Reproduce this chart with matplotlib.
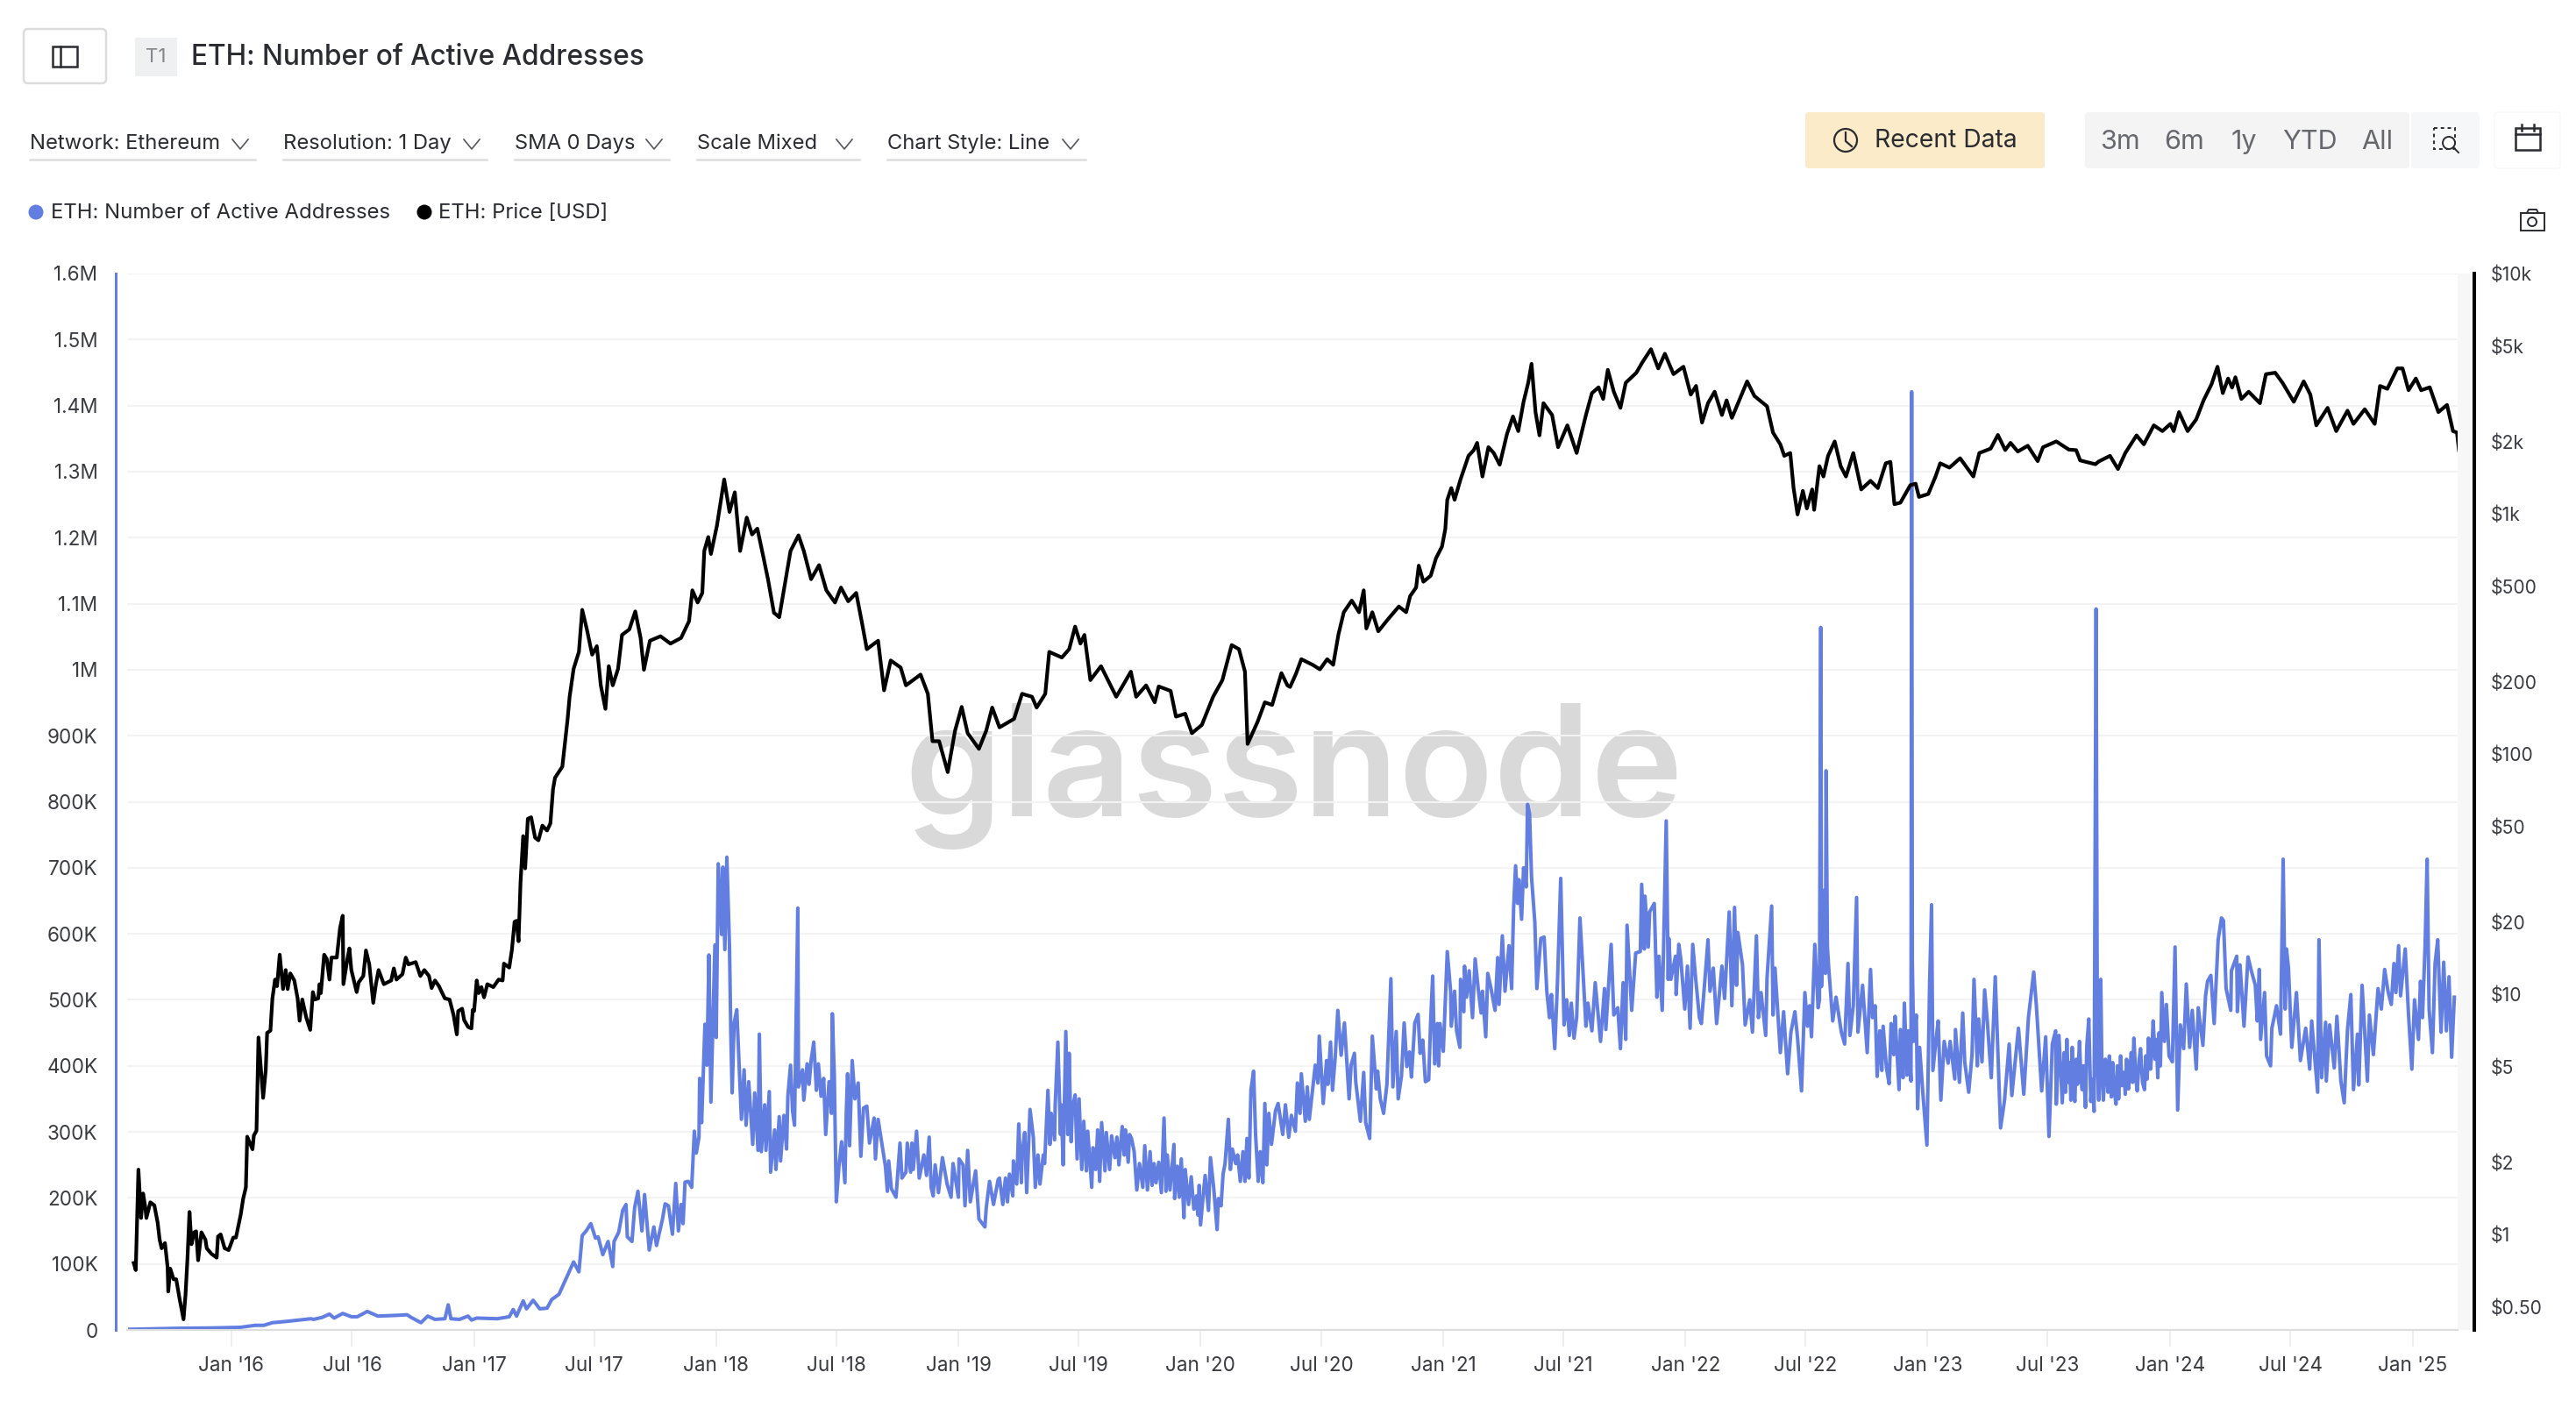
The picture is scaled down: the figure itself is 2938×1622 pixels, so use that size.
import matplotlib.pyplot as plt
from matplotlib.patches import FancyBboxPatch, Rectangle, Circle
import pandas as pd

plt.rcParams["font.family"] = ["Inter", "DejaVu Sans"]

# Active addresses in thousands, days counted from the start date of each stretch
addr_start_a = "2015-07-23"
addr_days_a = [9, 88, 132, 176, 198, 211, 224, 246, 264, 282, 286, 299, 310, 317, 330, 343, 352, 367, 383, 409, 427, 433, 448, 458, 469, 484, 489, 493, 506, 519, 524, 532, 563, 581, 587, 592, 602, 607, 617, 627, 638, 645, 656]
addr_k_a = [1, 2.6, 3, 4, 7, 7, 11, 13, 15, 17, 16, 19, 24, 18, 25, 20, 20, 28, 21, 22, 23, 19, 11, 21, 16, 17, 38, 17, 16, 21, 15, 18, 17, 20, 31, 21, 44, 32, 45, 32, 33, 46, 54]

addr_start_b = "2017-05-13"
addr_days_b = [18, 26, 31, 37, 44, 51, 55, 62, 70, 77, 79, 86, 92, 97, 99, 106, 110, 115, 121, 125, 132, 139, 143, 152, 156, 161, 167, 172, 176, 180, 183, 186, 191, 196, 200, 203, 207, 208, 211, 216, 219, 222, 225, 231, 233, 236, 241, 243, 246, 249, 253, 255, 257, 260, 264, 268, 271, 275, 278, 282, 288, 291, 296, 298, 301, 306, 308, 313, 315, 321, 323, 328, 330, 335, 339, 341, 345, 348, 351, 356, 357, 363, 365, 370, 373, 376, 380, 384, 387, 391, 395, 398, 403, 407, 408, 411, 414, 418, 422, 427, 429, 431, 434, 438, 442, 447, 451, 455, 460, 464, 471, 473, 477, 484, 488, 491, 493, 497, 504, 510, 513, 519, 521, 526, 528, 530, 535, 539, 546, 550, 554, 557, 560, 563, 568, 574, 581, 587, 590, 598, 599, 605, 608, 612, 616, 624, 629, 638, 640, 645, 651, 658]
addr_k_b = [103, 88, 143, 150, 161, 139, 141, 114, 134, 96, 134, 148, 181, 190, 141, 134, 185, 210, 150, 205, 121, 156, 128, 168, 191, 188, 145, 222, 150, 190, 161, 224, 225, 216, 301, 268, 292, 381, 314, 463, 401, 568, 345, 583, 443, 706, 599, 701, 576, 716, 581, 448, 359, 465, 485, 390, 319, 394, 310, 376, 281, 359, 272, 448, 270, 341, 272, 361, 239, 303, 243, 323, 256, 325, 274, 354, 401, 332, 310, 639, 368, 394, 348, 403, 372, 408, 436, 363, 403, 354, 381, 296, 376, 328, 479, 385, 194, 248, 285, 223, 328, 388, 279, 408, 350, 374, 263, 336, 339, 283, 321, 259, 319, 274, 248, 210, 256, 214, 201, 283, 230, 239, 283, 239, 283, 243, 301, 230, 265, 234, 292, 216, 203, 250, 208, 261, 221, 201, 252, 201, 259, 250, 188, 272, 194, 241, 168, 156, 185, 225, 190, 228]

addr_start_c = "2019-03-04"
addr_days_c = [0, 5, 9, 12, 15, 20, 21, 26, 29, 33, 34, 38, 41, 46, 51, 54, 58, 61, 66, 68, 73, 76, 78, 83, 84, 88, 92, 93, 96, 100, 103, 105, 108, 110, 114, 117, 120, 124, 127, 131, 133, 139, 141, 145, 148, 151, 154, 159, 161, 166, 169, 174, 177, 180, 185, 188, 190, 194, 196, 199, 203, 207, 211, 216, 219, 223, 227, 230, 233, 236, 240, 244, 248, 251, 253, 257, 263, 264, 268, 271, 274, 278, 280, 285, 289, 293, 297, 299, 301, 303, 307, 310, 315, 318, 323, 328, 330, 334, 337, 340, 345, 348, 351, 356, 359, 363, 367, 370, 373, 376, 379, 383, 386, 390, 393, 397, 400, 403, 406, 410, 416, 420, 427, 431, 436, 440, 446, 449, 453, 455, 461, 464, 467, 473, 476, 480, 482, 488, 493, 495, 499, 502, 506, 510, 515, 520, 527, 530, 535, 537, 544, 549, 552, 558, 562, 568, 570, 574, 579, 584, 590, 593, 598, 601, 606, 610, 614, 618, 621, 626, 631, 634, 638, 642, 647, 650, 653, 656]
addr_k_c = [230, 190, 230, 194, 236, 203, 256, 221, 312, 223, 265, 299, 208, 334, 292, 216, 265, 221, 265, 252, 363, 281, 328, 288, 341, 436, 296, 341, 250, 452, 296, 419, 285, 336, 356, 259, 350, 243, 316, 241, 301, 216, 276, 243, 303, 225, 314, 241, 299, 243, 294, 261, 292, 250, 308, 265, 303, 254, 296, 290, 270, 212, 252, 216, 279, 212, 270, 219, 252, 223, 254, 208, 321, 210, 265, 212, 281, 199, 248, 201, 259, 170, 243, 190, 232, 183, 203, 174, 219, 159, 203, 234, 181, 261, 214, 152, 199, 188, 236, 252, 319, 243, 274, 252, 265, 225, 270, 225, 290, 230, 363, 392, 296, 225, 270, 223, 343, 250, 328, 281, 332, 343, 296, 341, 292, 325, 301, 374, 328, 388, 316, 368, 319, 374, 401, 374, 445, 343, 408, 372, 436, 363, 412, 484, 416, 465, 350, 401, 419, 376, 316, 390, 314, 290, 445, 365, 392, 350, 328, 372, 532, 368, 452, 350, 385, 465, 399, 421, 383, 465, 478, 419, 439, 376, 379, 470, 536, 403]

addr_start_d = "2020-12-23"
addr_days_d = [0, 2, 4, 9, 15, 20, 21, 26, 29, 34, 35, 40, 41, 44, 48, 53, 57, 62, 66, 68, 73, 76, 81, 87, 91, 93, 98, 102, 108, 112, 115, 118, 121, 123, 127, 130, 134, 136, 139, 142, 147, 150, 156, 161, 165, 169, 172, 177, 181, 186, 191, 195, 199, 202, 206, 210, 215, 219, 224, 227, 233, 238, 246, 252, 254, 262, 266, 272, 276, 280, 284, 286, 293, 299, 306, 308, 312, 313, 318, 320, 327, 331, 334, 339, 341, 345, 348, 349, 352, 359, 360, 364, 367, 373, 377, 381, 385, 389, 395, 398, 403, 408, 411, 416, 421, 429, 433, 440, 444, 448, 451, 453, 460, 464, 471, 475, 481, 484, 488, 495, 497, 504, 506, 509, 517, 522, 528, 533, 539, 543, 549, 554, 558, 561, 564, 569, 574, 576, 578, 579, 583, 585, 586, 588, 590, 596, 601, 609, 614, 619, 622, 627, 632, 634, 641, 648, 653, 656]
addr_k_d = [464, 400, 464, 422, 573, 513, 460, 513, 453, 428, 531, 482, 551, 504, 544, 473, 562, 513, 480, 513, 444, 540, 517, 484, 564, 493, 597, 513, 582, 517, 640, 703, 646, 682, 622, 700, 671, 796, 782, 686, 617, 517, 593, 595, 513, 473, 508, 426, 524, 684, 462, 500, 446, 495, 442, 473, 624, 553, 460, 495, 453, 526, 437, 517, 455, 584, 477, 488, 426, 526, 440, 613, 484, 571, 573, 675, 577, 657, 580, 633, 646, 504, 566, 484, 577, 771, 531, 593, 531, 566, 508, 584, 562, 486, 551, 457, 584, 537, 473, 464, 526, 591, 513, 548, 464, 551, 502, 633, 491, 640, 522, 602, 553, 462, 500, 451, 597, 473, 511, 446, 533, 642, 477, 548, 420, 482, 388, 451, 482, 442, 362, 511, 460, 491, 444, 584, 488, 500, 1064, 520, 666, 540, 847, 580, 548, 468, 504, 451, 433, 555, 446, 491, 655, 451, 522, 420, 546, 473]

addr_start_e = "2022-10-14"
addr_days_e = [0, 3, 7, 10, 12, 17, 21, 24, 28, 30, 36, 38, 42, 44, 48, 50, 54, 55, 56, 58, 62, 64, 67, 72, 78, 82, 85, 87, 92, 95, 99, 104, 110, 113, 120, 121, 127, 132, 135, 141, 146, 149, 154, 156, 161, 165, 169, 175, 181, 189, 195, 202, 206, 216, 224, 231, 239, 243, 251, 257, 262, 267, 272, 273, 277, 282]
addr_k_e = [491, 384, 453, 393, 460, 397, 373, 464, 417, 475, 364, 455, 382, 495, 386, 453, 377, 1421, 557, 437, 477, 335, 428, 357, 280, 522, 644, 393, 442, 468, 348, 437, 404, 437, 380, 455, 375, 480, 406, 360, 417, 531, 400, 471, 406, 515, 468, 382, 535, 306, 348, 433, 355, 457, 357, 473, 542, 491, 362, 444, 293, 433, 453, 342, 446, 344]

addr_start_f = "2022-10-14"
addr_days_f = [285, 287, 289, 291, 293, 295, 297, 299, 301, 303, 305, 308, 310, 312, 314, 317, 319, 322, 325, 327, 330, 333, 335, 337, 340, 342, 344, 347, 349, 351, 353, 356, 358, 360, 363, 365, 367, 370, 372, 375, 377, 379, 382, 384, 386, 388, 390, 393, 395, 398, 400, 403, 406, 408, 410, 412, 415, 417, 419, 422, 424, 426, 428, 430]
addr_k_f = [420, 360, 440, 375, 405, 348, 428, 365, 346, 410, 372, 437, 385, 364, 400, 337, 430, 471, 346, 380, 331, 1092, 400, 348, 531, 380, 348, 410, 395, 360, 415, 353, 405, 365, 342, 400, 350, 415, 370, 390, 357, 410, 365, 395, 420, 375, 442, 380, 362, 410, 426, 375, 364, 415, 380, 442, 395, 420, 468, 410, 440, 382, 450, 400]

addr_start_g = "2022-10-14"
addr_days_g = [432, 436, 439, 443, 448, 452, 456, 460, 465, 469, 474, 478, 484, 487, 494, 498, 501, 506, 511, 517, 522, 525, 529, 536, 537, 545, 546, 550, 556, 562, 567, 573, 576, 579, 581, 587, 590, 596, 598, 605, 611, 615, 618, 620, 623, 628, 635, 641, 649, 655, 658, 667, 669, 673, 679, 680, 685, 692, 696, 702, 707, 712, 717, 721, 727, 729, 734, 742, 745, 751, 758, 763, 768, 773, 778, 782, 785, 789, 792, 799, 804, 809, 813, 819, 822, 825, 829, 832, 835, 840, 844, 848, 853, 857, 861, 865, 869, 873]
addr_k_g = [511, 437, 493, 415, 406, 580, 333, 462, 426, 524, 428, 484, 395, 488, 431, 506, 528, 537, 464, 591, 624, 620, 517, 484, 544, 566, 482, 553, 460, 565, 544, 522, 468, 546, 440, 511, 415, 400, 457, 491, 448, 713, 486, 577, 548, 428, 511, 408, 457, 395, 468, 360, 591, 382, 466, 377, 462, 397, 475, 377, 344, 455, 508, 364, 448, 371, 522, 377, 477, 417, 517, 486, 546, 513, 493, 555, 511, 582, 506, 577, 477, 395, 500, 440, 528, 473, 584, 713, 486, 420, 555, 591, 451, 557, 453, 535, 413, 504]

# ETH price in USD, days counted from the start date of each stretch
price_start_a = "2015-07-23"
price_days_a = [15, 18, 22, 26, 29, 32, 34, 40, 46, 51, 54, 57, 62, 66, 67, 70, 75, 79, 84, 90, 93, 96, 99, 102, 106, 109, 112, 117, 123, 125, 132, 140, 142, 146, 152, 158, 165, 169, 176, 180, 184, 186, 194, 196, 200, 203, 210, 214, 216, 221, 224, 228, 231, 235, 240, 244, 247, 251, 257, 262, 265, 269, 275, 281, 285, 288, 293, 295, 297, 302, 306, 310, 313, 321, 326, 330, 331, 337, 340, 343, 351, 354, 361, 365, 370, 376, 380, 384, 392, 403, 407, 411, 420, 425, 429, 440, 447, 453, 460, 464, 469, 475, 480, 484, 491, 497, 502, 504, 510, 513, 519, 524, 526, 528, 532, 535, 539, 543, 548, 557, 565, 571, 573, 581, 585, 589, 592, 595, 598, 602, 605, 609, 614, 620, 625, 631, 638, 643, 647]
price_usd_a = [.76, .71, 1.86, 1.17, 1.48, 1.32, 1.17, 1.36, 1.32, 1.12, .95, .875, .92, .73, .578, .72, .65, .65, .54, .443, .56, .80, 1.24, .91, 1.02, 1.03, .78, 1.02, .95, .875, .83, .80, .98, 1.0, .875, .86, .97, .97, 1.2, 1.41, 1.57, 2.55, 2.26, 2.58, 2.7, 6.6, 3.7, 4.85, 6.9, 7.05, 9.6, 11.5, 10.8, 14.6, 10.5, 12.6, 10.5, 12.2, 11.4, 9.6, 7.75, 9.5, 8.0, 7.1, 10.2, 9.5, 9.6, 11, 10.1, 14.6, 14, 11.5, 14.2, 14.2, 18.9, 21.2, 11, 14, 15.5, 12.6, 10.2, 11.2, 11.9, 15.2, 13.3, 9.2, 11, 12.6, 11, 11.4, 12.8, 11.5, 12.1, 14.2, 13.3, 13.6, 11.9, 12.6, 11.9, 10.6, 11.4, 10.8, 10.1, 9.6, 9.5, 8.2, 6.8, 8.5, 8.7, 7.8, 7.3, 7.2, 8.6, 8.5, 11.4, 10.1, 10.7, 9.7, 11, 10.7, 11.5, 11.4, 13.4, 12.9, 15.3, 20, 20.2, 16.6, 29.2, 45.5, 33.4, 53.7, 54.5, 44.8, 43.7, 50.3, 48, 51.4, 71.4]

price_start_b = "2015-07-23"
price_days_b = [650, 661, 669, 672, 678, 686, 691, 698, 706, 713, 719, 726, 731, 737, 745, 751, 762, 771, 779, 784, 793, 809, 824, 840, 852, 857, 865, 872, 875, 881, 885, 894, 900, 905, 913, 921, 929, 939, 947, 955, 964, 971, 980, 988, 997, 1005, 1017, 1025, 1036, 1048, 1059, 1072, 1081, 1092, 1104, 1113, 1120, 1137, 1146, 1156, 1171, 1179, 1201, 1212, 1219, 1229, 1242, 1253, 1263, 1272, 1289, 1300, 1309, 1320, 1342, 1354, 1369, 1376, 1389, 1395, 1414, 1425, 1434, 1442, 1448, 1457, 1473, 1496, 1518, 1526, 1541, 1554, 1560, 1578, 1586, 1600, 1610, 1625, 1642, 1656, 1670, 1681, 1690, 1694, 1709, 1720, 1731, 1745, 1754]
price_usd_b = [79.6, 88.5, 140, 173, 226, 266, 398, 330, 259, 281, 193, 154, 232, 193, 226, 313, 330, 392, 304, 224, 296, 309, 288, 304, 357, 480, 427, 468, 700, 800, 680, 890, 1132, 1390, 1018, 1228, 700, 964, 820, 867, 662, 534, 387, 371, 520, 700, 813, 700, 534, 611, 480, 427, 493, 432, 468, 348, 273, 296, 184, 245, 229, 193, 214, 178, 113, 113, 84, 125, 157, 122, 105, 125, 156, 129, 140, 178, 173, 156, 178, 266, 252, 273, 339, 288, 313, 203, 232, 173, 220, 173, 193, 164, 191, 183, 143, 147, 122, 132, 173, 203, 284, 273, 220, 110, 136, 164, 160, 217, 193]

price_start_c = "2020-05-15"
price_days_c = [0, 9, 17, 34, 45, 56, 65, 73, 81, 93, 104, 111, 115, 124, 133, 147, 164, 175, 181, 190, 194, 201, 212, 220, 229, 234, 237, 243, 248, 257, 269, 277, 282, 290, 299, 307, 316, 327, 336, 344, 352, 359, 364, 370, 376, 382, 395, 404, 418, 432, 446, 455, 465, 472, 479, 488, 498, 506, 522, 531, 544, 555, 565, 578, 593, 604, 612, 621, 630, 640, 651, 658, 666, 677, 689, 700, 719, 728, 739, 745, 754, 759, 765, 773, 779, 787, 790, 798, 804, 811, 821, 830, 838, 849, 861, 875, 886, 898, 905, 911, 920, 935, 943, 948, 962, 973, 980, 994, 1010, 1030, 1039, 1056, 1067, 1078, 1086, 1097, 1112, 1127, 1135, 1155, 1174, 1185, 1191, 1214, 1219, 1236, 1248, 1259, 1276, 1287, 1302, 1315, 1327, 1332, 1340, 1353, 1366, 1377, 1389, 1398, 1406, 1414, 1420, 1425, 1434, 1445, 1462, 1471, 1485, 1496, 1513, 1528, 1538, 1547, 1564, 1577, 1594, 1603, 1620, 1635, 1643, 1654, 1669, 1677, 1686, 1697, 1705, 1718, 1731, 1744, 1753, 1759, 1762]
price_usd_c = [190, 216, 248, 235, 225, 248, 235, 315, 389, 435, 389, 480, 333, 389, 324, 362, 411, 389, 454, 493, 608, 521, 552, 653, 730, 863, 1143, 1279, 1143, 1391, 1742, 1841, 1973, 1429, 1892, 1790, 1600, 2149, 2541, 2208, 2925, 3509, 4207, 2649, 2120, 2886, 2576, 1892, 2333, 1790, 2576, 3177, 3360, 3005, 3972, 3221, 2759, 3509, 3864, 4266, 4842, 4027, 4634, 3811, 4093, 3133, 3404, 2396, 2886, 3221, 2576, 2965, 2506, 2965, 3556, 3091, 2800, 2177, 1945, 1742, 1790, 1279, 993, 1245, 1052, 1262, 1038, 1578, 1429, 1742, 2000, 1578, 1429, 1790, 1262, 1371, 1279, 1622, 1644, 1096, 1112, 1315, 1334, 1175, 1208, 1429, 1622, 1556, 1702, 1429, 1790, 1866, 2128, 1841, 1973, 1815, 1919, 1656, 1892, 2000, 1849, 1840, 1667, 1607, 1650, 1742, 1535, 1790, 2120, 1945, 2333, 2208, 2366, 2208, 2649, 2208, 2472, 2965, 3459, 4093, 3177, 3656, 3350, 3700, 3005, 3221, 2886, 3811, 3864, 3509, 2925, 3556, 3133, 2333, 2759, 2208, 2685, 2366, 2723, 2366, 3404, 3311, 4027, 4027, 3268, 3656, 3268, 3360, 2649, 2838, 2208, 2177, 1841]

# Axis labels
left_ticks = [0, 100, 200, 300, 400, 500, 600, 700, 800, 900, 1000, 1100, 1200, 1300, 1400, 1500, 1600]
left_labels = ["0", "100K", "200K", "300K", "400K", "500K", "600K", "700K", "800K", "900K", "1M", "1.1M", "1.2M", "1.3M", "1.4M", "1.5M", "1.6M"]
right_ticks = [0.5, 1, 2, 5, 10, 20, 50, 100, 200, 500, 1000, 2000, 5000, 10000]
right_labels = ["$0.50", "$1", "$2", "$5", "$10", "$20", "$50", "$100", "$200", "$500", "$1k", "$2k", "$5k", "$10k"]
x_ticks = ["2016-01-01", "2016-07-01", "2017-01-01", "2017-07-01", "2018-01-01", "2018-07-01", "2019-01-01", "2019-07-01", "2020-01-01", "2020-07-01", "2021-01-01", "2021-07-01", "2022-01-01", "2022-07-01", "2023-01-01", "2023-07-01", "2024-01-01", "2024-07-01", "2025-01-01"]
x_labels = ["Jan '16", "Jul '16", "Jan '17", "Jul '17", "Jan '18", "Jul '18", "Jan '19", "Jul '19", "Jan '20", "Jul '20", "Jan '21", "Jul '21", "Jan '22", "Jul '22", "Jan '23", "Jul '23", "Jan '24", "Jul '24", "Jan '25"]

# Header controls
dropdowns = ["Network: Ethereum", "Resolution: 1 Day", "SMA 0 Days", "Scale Mixed", "Chart Style: Line"]
dropdown_left = [34, 323, 587, 795, 1012]
dropdown_right = [291, 555, 763, 980, 1238]
chevron_x = [274, 538, 746, 963, 1221]
ranges = ["3m", "6m", "1y", "YTD", "All"]
range_x = [2418, 2491, 2559, 2634, 2711]

blue = "#617ee0"
grid_color = "#f3f3f4"
text_color = "#3a3c42"

# Stitch the stretches together into dates
addr_dates = []
addr_values = []
for start, days, vals in [(addr_start_a, addr_days_a, addr_k_a), (addr_start_b, addr_days_b, addr_k_b), (addr_start_c, addr_days_c, addr_k_c), (addr_start_d, addr_days_d, addr_k_d), (addr_start_e, addr_days_e, addr_k_e), (addr_start_f, addr_days_f, addr_k_f), (addr_start_g, addr_days_g, addr_k_g)]:
    addr_dates.extend(pd.Timestamp(start) + pd.to_timedelta(days, unit="D"))
    addr_values.extend(vals)

price_dates = []
price_values = []
for start, days, vals in [(price_start_a, price_days_a, price_usd_a), (price_start_b, price_days_b, price_usd_b), (price_start_c, price_days_c, price_usd_c)]:
    price_dates.extend(pd.Timestamp(start) + pd.to_timedelta(days, unit="D"))
    price_values.extend(vals)

plt.figure(figsize=(14.69, 8.11), dpi=200)

# Page layer in image pixels, under the chart
page = plt.axes([0, 0, 1, 1])
page.set_xlim(0, 2938)
page.set_ylim(1622, 0)
page.axis("off")

page.add_patch(FancyBboxPatch((27, 33), 94, 62, boxstyle="round,pad=0,rounding_size=5", fc="white", ec="#dcdcdc", lw=0.9))
page.add_patch(Rectangle((60, 53), 28, 23, fc="none", ec="#2a2c31", lw=0.9))
page.plot([69, 69], [53, 76], color="#2a2c31", lw=0.9)
page.add_patch(Rectangle((154, 43), 48, 44, fc="#eef0f2", ec="none"))
page.text(178, 65, "T1", fontsize=8, color="#85878c", ha="center", va="center")
page.text(218, 66, "ETH: Number of Active Addresses", fontsize=11.4, color="#2a2c31", va="center", fontweight="medium")

for label, x0, x1, xc in zip(dropdowns, dropdown_left, dropdown_right, chevron_x):
    page.text(x0, 164, label, fontsize=8.55, color="#2a2c31", va="center")
    page.plot([x0, x1], [182, 182], color="#dddddd", lw=0.9)
    page.plot([xc - 9, xc, xc + 9], [159, 170, 159], color="#55575c", lw=0.6)

page.add_patch(Circle((41, 242), 8.5, fc=blue, ec="none"))
page.text(58, 243, "ETH: Number of Active Addresses", fontsize=8.6, color="#2a2c31", va="center")
page.add_patch(Circle((484, 242), 8.5, fc="black", ec="none"))
page.text(500, 243, "ETH: Price [USD]", fontsize=8.6, color="#2a2c31", va="center")

page.add_patch(FancyBboxPatch((2059, 128), 273, 64, boxstyle="round,pad=0,rounding_size=4", fc="#fbebc8", ec="none"))
page.add_patch(Circle((2105, 160), 13, fc="none", ec="#2a2c31", lw=0.8))
page.plot([2105, 2105, 2112], [151, 161, 167], color="#2a2c31", lw=0.8)
page.text(2138, 161, "Recent Data", fontsize=10.2, color="#2a2c31", va="center")
page.add_patch(FancyBboxPatch((2378, 128), 370, 64, boxstyle="round,pad=0,rounding_size=4", fc="#f4f4f5", ec="none"))
for label, x in zip(ranges, range_x):
    page.text(x, 162, label, fontsize=11, color="#66686d", ha="center", va="center")
page.add_patch(FancyBboxPatch((2750, 128), 78, 64, boxstyle="round,pad=0,rounding_size=4", fc="#f6f7f8", ec="none"))
page.add_patch(Rectangle((2776, 146), 24, 24, fc="none", ec="#2a2c31", lw=0.7, ls=(0, (2, 2))))
page.add_patch(Circle((2793, 163), 7, fc="white", ec="#2a2c31", lw=0.7))
page.plot([2798, 2804], [168, 174], color="#2a2c31", lw=0.7)
page.add_patch(FancyBboxPatch((2845, 128), 75, 64, boxstyle="round,pad=0,rounding_size=4", fc="white", ec="#f8f8f8", lw=0.5))
page.add_patch(Rectangle((2869, 146), 28, 25, fc="none", ec="#2a2c31", lw=0.9))
page.plot([2869, 2897], [153, 153], color="#2a2c31", lw=0.9)
page.plot([2876, 2876], [142, 149], color="#2a2c31", lw=0.9)
page.plot([2890, 2890], [142, 149], color="#2a2c31", lw=0.9)
page.add_patch(Rectangle((2875, 243), 27, 20, fc="none", ec="#2a2c31", lw=0.7))
page.add_patch(Circle((2888, 253), 5, fc="none", ec="#2a2c31", lw=0.7))
page.plot([2882, 2884, 2893, 2895], [243, 239, 239, 243], color="#2a2c31", lw=0.7)

page.add_patch(Rectangle((2803, 312), 17, 1205, fc="#f7f7f7", ec="none"))
page.text(1476, 931, "glassnode", fontsize=64, color="#d9d9d9", ha="center", va="baseline", fontweight="semibold")

# Left axis, active addresses
ax = plt.axes([145 / 2938, 1 - 1517 / 1622, 2658 / 2938, 1205 / 1622], facecolor="none")
plt.plot(addr_dates, addr_values, color=blue, lw=1.45)
plt.xlim(pd.Timestamp("2015-07-28"), pd.Timestamp("2025-03-10"))
plt.ylim(0, 1600)
plt.yticks(left_ticks, left_labels)
plt.xticks(pd.to_datetime(x_ticks), x_labels, fontsize=8.1, color=text_color)
plt.grid(axis="y", color=grid_color, lw=0.75)
ax.set_axisbelow(True)
ax.spines["top"].set_visible(False)
ax.spines["right"].set_visible(False)
ax.spines["bottom"].set_color("#dddddd")
ax.spines["bottom"].set_linewidth(0.75)
ax.spines["left"].set_position(("outward", 4.7))  # resets the y ticks, so style them after this
ax.spines["left"].set_color(blue)
ax.spines["left"].set_linewidth(1.1)
ax.tick_params(axis="y", length=0, pad=7.4, labelsize=8.1, labelcolor=text_color)
ax.tick_params(axis="x", length=6.8, width=0.7, color="#eeeeee", pad=4)

# Right axis, price on a log scale
ax2 = plt.twinx()
plt.plot(price_dates, price_values, color="black", lw=1.5)
plt.yscale("log")
plt.ylim(0.4, 10000)
plt.yticks(right_ticks, right_labels)
plt.minorticks_off()
ax2.spines["top"].set_visible(False)
ax2.spines["left"].set_visible(False)
ax2.spines["bottom"].set_visible(False)
ax2.spines["right"].set_position(("outward", 7))
ax2.spines["right"].set_color("black")
ax2.spines["right"].set_linewidth(1.45)
ax2.tick_params(axis="y", length=0, pad=6.5, labelsize=7.6, labelcolor=text_color)

plt.savefig("out.png", dpi=200)
